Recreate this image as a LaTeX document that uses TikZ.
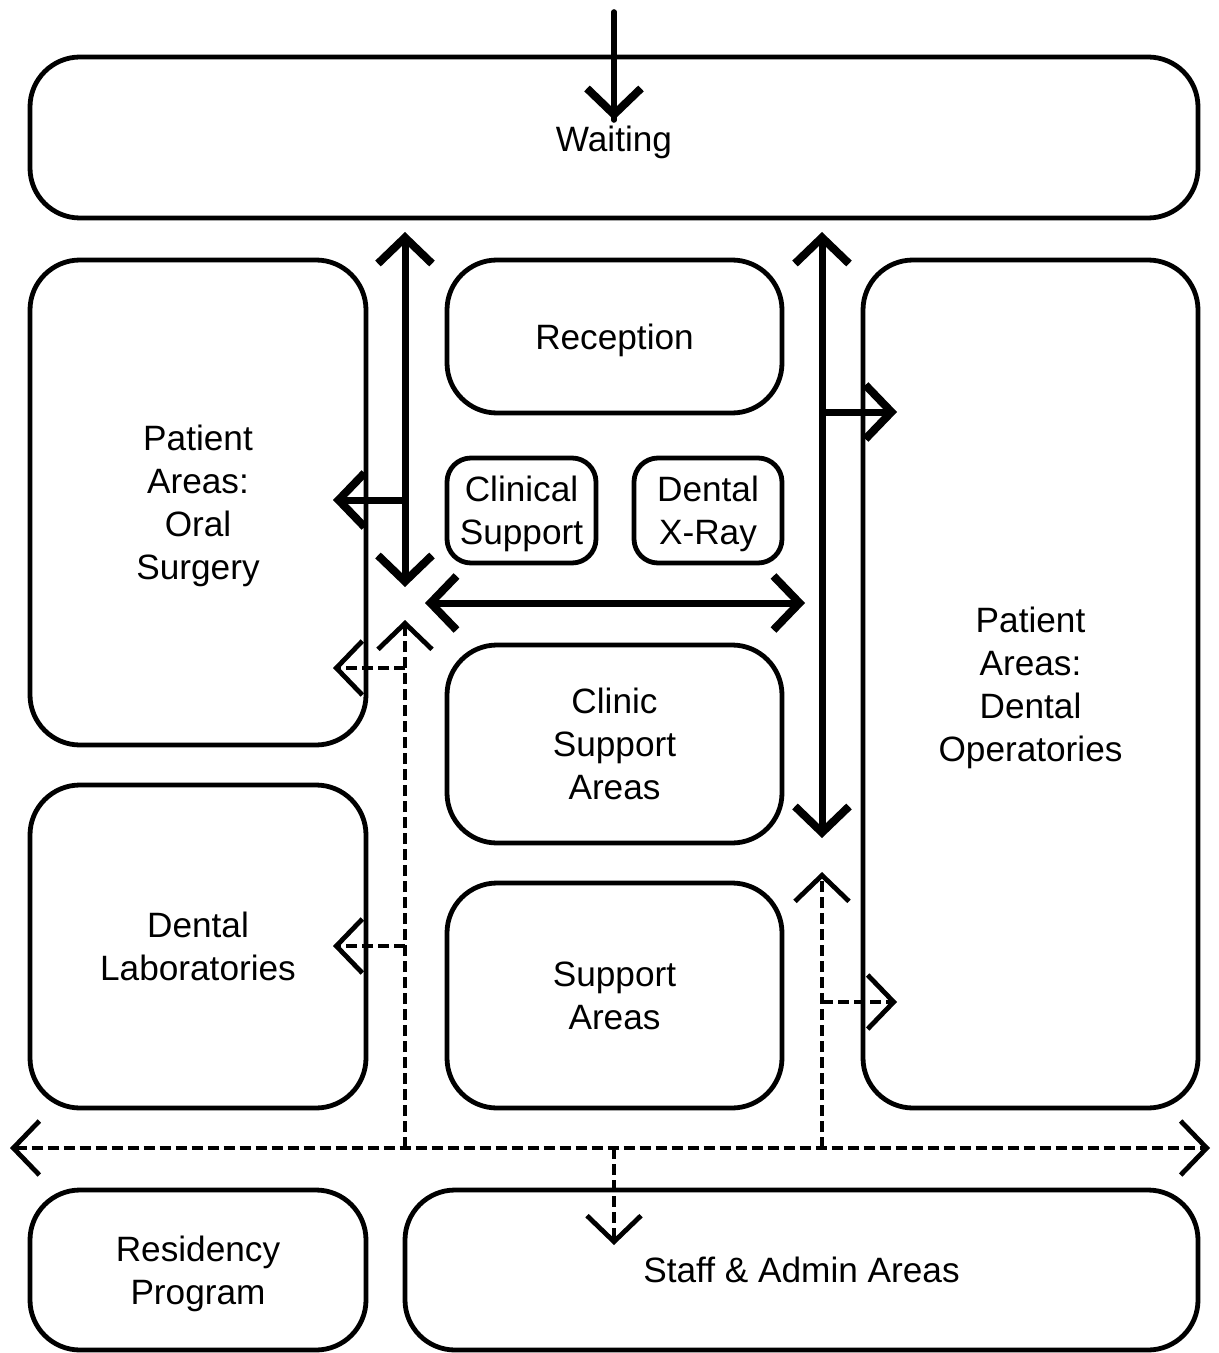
\documentclass[tikz,border=0pt]{standalone}
\usepackage{fontspec}
\setmainfont{Liberation Sans}
\usepackage{tikz}
\usetikzlibrary{arrows.meta}

\begin{document}
\begin{tikzpicture}[x=0.5pt,y=-0.5pt,
  area/.style={draw, line width=2.4pt, rounded corners=25pt, align=center,
    font=\fontsize{17.6}{21.5}\selectfont, inner sep=0pt, text depth=0pt},
  smallarea/.style={area, rounded corners=12pt},
  barb/.tip={Straight Barb[length=13pt,width=27pt,line width=4pt]},
  dbarb/.tip={Straight Barb[length=13pt,width=27pt,line width=2.4pt]},
  flow/.style={line width=3.5pt, arrows={barb-barb}},
  flowto/.style={line width=3.5pt, arrows={-barb}},
  dflow/.style={line width=2pt, dash pattern=on 5.5pt off 2.5pt, arrows={dbarb-dbarb}},
  dflowto/.style={line width=2pt, dash pattern=on 5.5pt off 2.5pt, arrows={-dbarb}}]
\useasboundingbox (0,0) rectangle (1219,1353);
\node [area, minimum width=584pt, minimum height=80.5pt] (waiting) at (614,137.5) {};
\node [font=\fontsize{17.6}{21.5}\selectfont] at (614,142) {Waiting};
\node [area, minimum width=168pt, minimum height=242.5pt] (oral) at (198,502.5) {Patient\\Areas:\\Oral\\Surgery};
\node [area, minimum width=167.5pt, minimum height=76.5pt] (reception) at (614.5,336.5) {Reception};
\node [smallarea, minimum width=74.5pt, minimum height=52.5pt] (clinical) at (521.5,510.5) {Clinical\\Support};
\node [smallarea, minimum width=74pt, minimum height=52.5pt] (xray) at (708,510.5) {Dental\\X-Ray};
\node [area, minimum width=167.5pt, minimum height=99pt] (clinic) at (614.5,744) {Clinic\\Support\\Areas};
\node [area, minimum width=167.5pt, minimum height=424pt] (operatories) at (1030.5,684) {Patient\\Areas:\\Dental\\Operatories};
\node [area, minimum width=168pt, minimum height=161.5pt] (labs) at (198,946.5) {Dental\\Laboratories};
\node [area, minimum width=167.5pt, minimum height=112.5pt] (support) at (614.5,995.5) {Support\\Areas};
\node [area, minimum width=168pt, minimum height=80pt] (residency) at (198,1270) {Residency\\Program};
\node [area, minimum width=396.5pt, minimum height=80pt] (staff) at (801.5,1270) {Staff \& Admin Areas};
% solid circulation
\coordinate (entry) at (614,12);
\coordinate (entryTip) at (614,120);
\coordinate (leftTop) at (405,232);
\coordinate (leftBot) at (405,587);
\coordinate (oralJoin) at (405,500);
\coordinate (oralTip) at (333,500);
\coordinate (rightTop) at (822,232);
\coordinate (rightBot) at (822,838);
\coordinate (operJoin) at (822,412);
\coordinate (operTip) at (897,412);
\coordinate (midLeft) at (425,603);
\coordinate (midRight) at (805,603);
\draw [line width=2.8pt, line cap=round] (entry) -- (entryTip);
\draw [flowto, line width=2.8pt] (entry) -- (entryTip);
\draw [flow] (leftTop) -- (leftBot);
\draw [flowto] (oralJoin) -- (oralTip);
\draw [flow] (rightTop) -- (rightBot);
\draw [flowto] (operJoin) -- (operTip);
\draw [flow] (midLeft) -- (midRight);
% dashed service circulation
\coordinate (svcLeft) at (10,1148);
\coordinate (svcRight) at (1210,1148);
\coordinate (svcA) at (405,1148);
\coordinate (svcATip) at (405,620);
\coordinate (surgJoin) at (405,668);
\coordinate (surgTip) at (333,668);
\coordinate (labJoin) at (405,946);
\coordinate (labTip) at (333,946);
\coordinate (svcB) at (822,1148);
\coordinate (svcBTip) at (822,872);
\coordinate (opJoin) at (822,1002);
\coordinate (opTip) at (897,1002);
\coordinate (staffJoin) at (614,1148);
\coordinate (staffTip) at (614,1245);
\draw [dflow] (svcLeft) -- (svcRight);
\draw [dflowto] (svcA) -- (svcATip);
\draw [dflowto] (surgJoin) -- (surgTip);
\draw [dflowto] (labJoin) -- (labTip);
\draw [dflowto] (svcB) -- (svcBTip);
\draw [dflowto] (opJoin) -- (opTip);
\draw [dflowto] (staffJoin) -- (staffTip);
\end{tikzpicture}
\end{document}
